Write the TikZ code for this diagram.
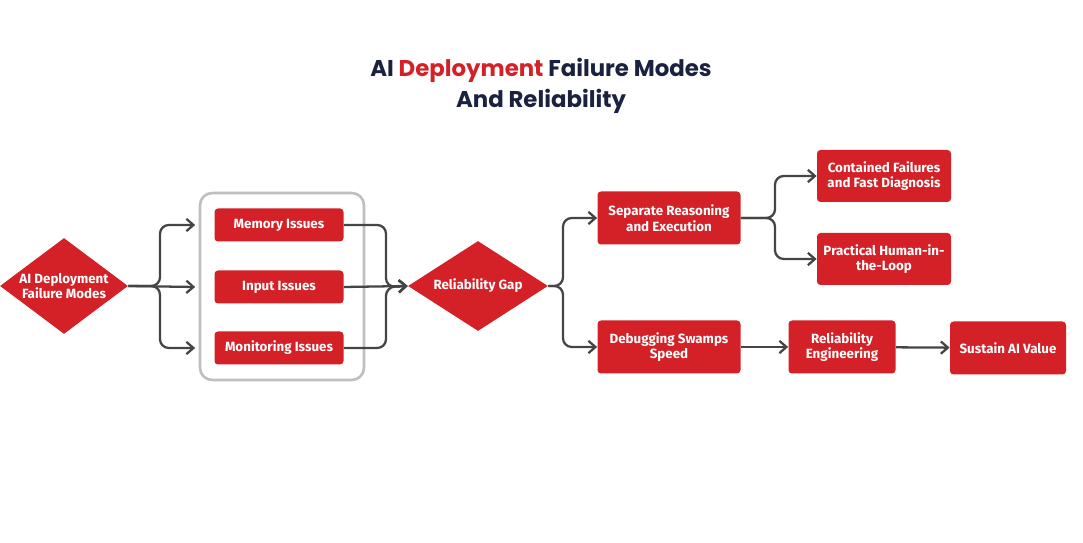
\documentclass[tikz,border=0pt]{standalone}
\usepackage{fontspec}
\setmainfont{Fira Sans}
\newfontfamily\titlefont{Poppins}
\usetikzlibrary{arrows.meta,positioning,shapes.geometric}
\definecolor{boxred}{HTML}{D42027}
\definecolor{navy}{HTML}{1B2240}
\definecolor{linegray}{HTML}{454545}
\tikzset{
  rbox/.style={rectangle, fill=boxred, rounded corners=2pt, text=white, font=\fontsize{7.6}{9}\selectfont\bfseries, align=center, inner sep=1pt},
  rdia/.style={diamond, fill=boxred, text=white, font=\fontsize{7.6}{9}\selectfont\bfseries, align=center, inner sep=0pt, aspect=1.4},
  conn/.style={draw=linegray, line width=1.3pt, rounded corners=5pt, -{Straight Barb[length=4pt,width=7pt]}},
}
\begin{document}
\begin{tikzpicture}[x=0.02cm, y=-0.02cm]
  \useasboundingbox (0,0) rectangle (1083,543);

  %% ============================================
  %% TITLE
  %% ============================================
  \node[font=\titlefont\fontsize{13}{16}\selectfont\bfseries, text=navy] (title1) at (541,70) {AI \textcolor{boxred}{Deployment} Failure Modes};
  \node[font=\titlefont\fontsize{13}{16}\selectfont\bfseries, text=navy] (title2) at (541,101) {And Reliability};

  % Grey grouping box
  \node[draw=black!25, line width=1.5pt, rounded corners=7pt, minimum width=164*0.02cm, minimum height=187*0.02cm] (group) at (282,286.5) {};

  % Diamonds
  \node[rdia, minimum width=128*0.02cm, minimum height=96*0.02cm] (dfm) at (64,286) {AI Deployment\\Failure Modes};
  \node[rdia, minimum width=140*0.02cm, minimum height=90*0.02cm] (gap) at (478,286) {Reliability Gap};

  % Issue boxes
  \node[rbox, minimum width=129*0.02cm, minimum height=33*0.02cm] (mem) at (279,225) {Memory Issues};
  \node[rbox, minimum width=129*0.02cm, minimum height=33*0.02cm] (inp) at (279,287) {Input Issues};
  \node[rbox, minimum width=129*0.02cm, minimum height=33*0.02cm] (mon) at (279,348) {Monitoring Issues};

  % Right-hand boxes
  \node[rbox, minimum width=143*0.02cm, minimum height=53*0.02cm] (sep) at (669,218) {Separate Reasoning\\and Execution};
  \node[rbox, minimum width=143*0.02cm, minimum height=53*0.02cm] (dbg) at (669,347) {Debugging Swamps\\Speed};
  \node[rbox, minimum width=134*0.02cm, minimum height=52*0.02cm] (cont) at (884,176) {Contained Failures\\and Fast Diagnosis};
  \node[rbox, minimum width=134*0.02cm, minimum height=52*0.02cm] (hitl) at (884,259) {Practical Human-in-\\the-Loop};
  \node[rbox, minimum width=107*0.02cm, minimum height=53*0.02cm] (reng) at (842,347) {Reliability\\Engineering};
  \node[rbox, minimum width=116*0.02cm, minimum height=53*0.02cm] (sust) at (1008,348) {Sustain AI Value};

  % Fan-out to issues
  \draw[conn] (dfm.east) -| (160,225) -- ([xshift=-19*0.02cm]mem.west);
  \draw[conn] (dfm.east) -- ([xshift=-19*0.02cm]inp.west);
  \draw[conn] (dfm.east) -| (160,348) -- ([xshift=-19*0.02cm]mon.west);

  % Issues into the gap
  \draw[conn] (mem.east) -| (386,287) -- (gap.west);
  \draw[conn] (inp.east) -- (gap.west);
  \draw[conn] (mon.east) -| (386,287) -- (gap.west);

  % Gap to the two paths
  \draw[conn] (gap.east) -| (563,218) -- (sep.west);
  \draw[conn] (gap.east) -| (563,347) -- (dbg.west);

  % Separate to outcomes
  \draw[conn] (sep.east) -| (775,176) -- (cont.west);
  \draw[conn] (sep.east) -| (775,259) -- (hitl.west);

  % Bottom chain
  \draw[conn] (dbg) -- (reng);
  \draw[conn] (reng) -- (sust);
\end{tikzpicture}
\end{document}
